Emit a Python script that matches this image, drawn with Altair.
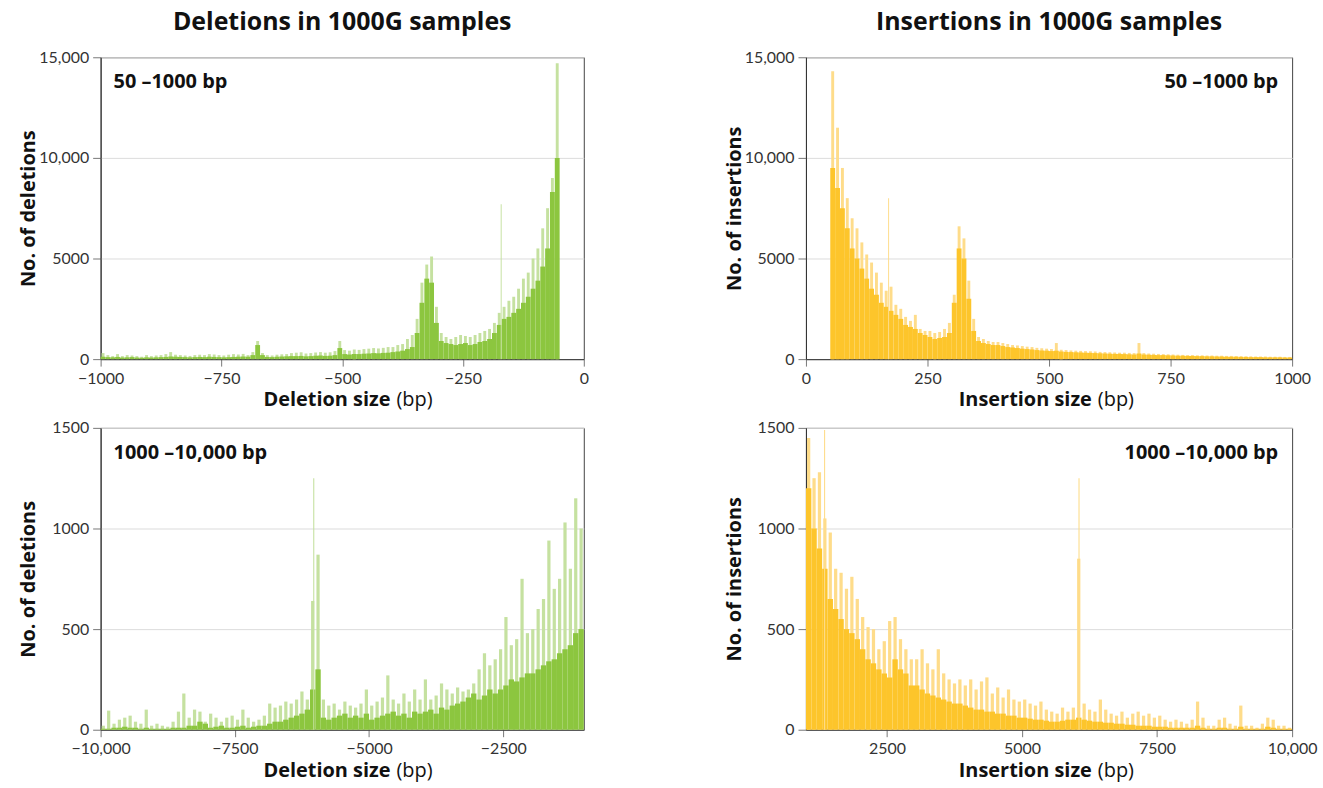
import altair as alt
import pandas as pd

FONT = "Lato"
TFONT = "Open Sans"
GREEN = "#8cc63f"
GREEN_LIGHT = "#c5e1a0"
YELLOW = "#fdc52b"
YELLOW_LIGHT = "#fedc8a"

# ---------------- Deletions 50-1000 bp (10 bp bins, start of bin) ----------------
del_small_start = list(range(-1000, -50, 10))
del_small_solid = [
    120, 100, 90, 110, 80, 90, 100, 80, 70, 90,
    80, 90, 100, 110, 130, 120, 110, 100, 90, 100,
    110, 100, 120, 110, 100, 90, 100, 110, 120, 130,
    120, 200, 700, 200, 110, 100, 120, 130, 140, 150,
    150, 160, 140, 150, 170, 180, 160, 170, 200, 550,
    250, 230, 260, 250, 270, 280, 300, 290, 310, 320,
    350, 380, 420, 500, 600, 1300, 2800, 4000, 3800, 1800,
    900, 800, 750, 700, 750, 800, 700, 750, 850, 900,
    1000, 1300, 1700, 2000, 2100, 2300, 2500, 2800, 3100, 3500,
    3900, 4600, 5500, 8300, 10000,
]
del_small_peak = [
    300, 200, 150, 250, 150, 200, 180, 150, 120, 200,
    150, 180, 200, 250, 350, 220, 200, 180, 160, 200,
    220, 200, 250, 230, 200, 180, 220, 250, 230, 260,
    200, 350, 900, 300, 200, 180, 220, 240, 250, 300,
    320, 340, 280, 300, 330, 350, 320, 340, 400, 900,
    450, 420, 480, 460, 500, 520, 550, 530, 560, 600,
    600, 700, 750, 1000, 1200, 2000, 3800, 4700, 5100, 2600,
    1300, 1100, 1000, 1100, 1200, 1150, 1100, 1200, 1300, 1400,
    1500, 1800, 2300, 2600, 2900, 3100, 3500, 4000, 4300, 5000,
    5500, 6500, 7500, 9000, 14700,
]
del_small_spike_x = [-171]
del_small_spike_y = [7700]

# ---------------- Insertions 50-1000 bp ----------------
ins_small_start = list(range(50, 1000, 10))
ins_small_solid = [
    9500, 8500, 7500, 6500, 5500, 5000, 4500, 4000, 3500, 3200,
    2800, 2600, 2400, 2200, 2000, 1700, 1600, 1500, 1300, 1200,
    1100, 1000, 1050, 1100, 1300, 2800, 5500, 5000, 3000, 1400,
    900, 800, 750, 700, 700, 650, 600, 580, 550, 520,
    500, 480, 450, 430, 420, 400, 420, 380, 360, 350,
    340, 330, 320, 310, 300, 290, 280, 270, 260, 260,
    250, 240, 230, 280, 230, 220, 210, 200, 200, 190,
    180, 170, 170, 160, 160, 150, 150, 140, 140, 130,
    130, 120, 120, 120, 110, 110, 100, 100, 100, 90,
    90, 90, 90, 80, 80,
]
ins_small_peak = [
    14300, 11500, 9500, 8000, 7000, 6500, 5800, 5200, 4800, 4300,
    3800, 3400, 3600, 2700, 2500, 2100, 1900, 2200, 1500, 1400,
    1400, 1300, 1350, 1500, 1800, 3200, 6600, 6000, 3900, 2000,
    1100, 1000, 900, 850, 850, 800, 750, 700, 680, 650,
    620, 600, 560, 540, 520, 500, 800, 470, 450, 430,
    420, 410, 400, 390, 380, 360, 350, 340, 330, 320,
    320, 310, 300, 800, 300, 280, 270, 260, 250, 240,
    230, 220, 210, 200, 200, 190, 190, 180, 180, 170,
    170, 160, 160, 150, 150, 140, 140, 130, 130, 130,
    120, 120, 120, 110, 110,
]
ins_small_spike_x = [170]
ins_small_spike_y = [8000]

# ---------------- Deletions 1000-10,000 bp (100 bp bins) ----------------
del_large_start = list(range(-10000, -1000, 100))
del_large_solid = [
    5, 5, 10, 10, 15, 10, 10, 5, 10, 5,
    5, 5, 5, 10, 10, 10, 20, 20, 40, 30,
    10, 15, 20, 10, 10, 15, 20, 10, 15, 20,
    20, 30, 40, 40, 50, 60, 70, 80, 100, 200,
    300, 60, 50, 60, 70, 80, 60, 70, 60, 80,
    50, 60, 70, 80, 90, 70, 80, 60, 90, 80,
    90, 100, 80, 110, 100, 120, 130, 140, 160, 180,
    150, 170, 200, 180, 200, 220, 250, 240, 260, 280,
    280, 300, 320, 340, 350, 380, 400, 420, 480, 500,
]
del_large_peak = [
    20, 95, 30, 50, 60, 70, 40, 30, 100, 20,
    30, 20, 15, 40, 90, 180, 60, 100, 90, 40,
    80, 60, 40, 60, 70, 50, 100, 60, 40, 50,
    70, 130, 110, 120, 140, 130, 150, 190, 150, 640,
    870, 150, 120, 130, 100, 140, 120, 110, 130, 200,
    120, 140, 160, 270, 150, 130, 180, 140, 200, 150,
    250, 150, 170, 230, 200, 180, 210, 190, 200, 230,
    300, 380, 320, 350, 400, 560, 420, 450, 750, 480,
    500, 600, 650, 940, 700, 750, 1030, 800, 1150, 1000,
]
del_large_spike_x = [-6030]
del_large_spike_y = [1250]

# ---------------- Insertions 1000-10,000 bp ----------------
ins_large_start = list(range(1000, 10000, 100))
ins_large_solid = [
    1200, 1000, 900, 800, 650, 600, 550, 500, 480, 450,
    400, 350, 330, 300, 280, 260, 350, 300, 280, 220,
    220, 200, 180, 170, 160, 150, 140, 130, 130, 120,
    110, 100, 100, 90, 90, 80, 80, 70, 70, 60,
    60, 55, 50, 50, 45, 40, 40, 45, 50, 50,
    60, 50, 45, 40, 40, 35, 35, 30, 30, 25,
    25, 20, 20, 20, 15, 15, 15, 10, 10, 10,
    10, 10, 20, 10, 5, 5, 10, 10, 5, 5,
    15, 5, 5, 5, 5, 15, 10, 5, 5, 5,
]
ins_large_peak = [
    1450, 1250, 1280, 1050, 980, 800, 780, 700, 760, 650,
    560, 510, 500, 400, 440, 540, 560, 450, 400, 350,
    350, 400, 330, 300, 400, 280, 250, 230, 250, 220,
    250, 200, 240, 260, 180, 210, 160, 200, 150, 140,
    150, 130, 120, 140, 100, 90, 80, 110, 90, 110,
    850, 130, 100, 90, 150, 100, 80, 70, 90, 60,
    80, 90, 70, 80, 60, 70, 50, 40, 50, 40,
    30, 50, 140, 60, 20, 20, 50, 60, 30, 20,
    120, 20, 20, 10, 30, 60, 50, 20, 20, 10,
]
ins_large_spike_x = [1345, 6055]
ins_large_spike_y = [1490, 1250]

LABEL_EXPR = "abs(datum.value) >= 10000 ? format(datum.value, ',') : format(datum.value, 'd')"


def panel(starts, step, solid, peak, sx, sy, spike_w, color, color_light,
          domain, xticks, ydomain, yticks, xbold, ytitle, tag, tag_right,
          W, H, split, title=None):
    pw = step * 0.6
    df = pd.DataFrame({
        "x0": starts,
        "x1": [s + step for s in starts],
        "p0": [s + (step - pw) / 2 for s in starts],
        "p1": [s + (step + pw) / 2 for s in starts],
        "solid": solid,
        "peak": peak,
        "zero": [0] * len(starts),
    })
    sp = pd.DataFrame({
        "x0": [x - spike_w / 2 for x in sx],
        "x1": [x + spike_w / 2 for x in sx],
        "y": sy,
        "zero": [0] * len(sx),
    })
    xs = alt.Scale(domain=domain, nice=False, zero=False)
    ys = alt.Scale(domain=ydomain, nice=False)
    xaxis = alt.Axis(values=xticks, title=None, grid=False, labelExpr=LABEL_EXPR,
                     labelFlush=False, labelOverlap=False, tickSize=7)
    yaxis = alt.Axis(values=yticks, title=ytitle, grid=True, labelExpr=LABEL_EXPR,
                     labelFlush=False, labelOverlap=False, tickSize=8,
                     titleAngle=270, titleX=-72, titleY=H / 2,
                     titleAlign="center", titleBaseline="middle")
    light = alt.Chart(df).mark_rect(color=color_light).encode(
        x=alt.X("p0:Q", scale=xs, axis=xaxis),
        x2="p1:Q",
        y=alt.Y("peak:Q", scale=ys, axis=yaxis),
        y2="zero:Q",
    )
    base = alt.Chart(df).mark_rect(color=color).encode(
        x=alt.X("x0:Q", scale=xs), x2="x1:Q",
        y=alt.Y("solid:Q", scale=ys), y2="zero:Q",
    )
    spikes = alt.Chart(sp).mark_rect(color=color_light).encode(
        x=alt.X("x0:Q", scale=xs), x2="x1:Q",
        y=alt.Y("y:Q", scale=ys), y2="zero:Q",
    )
    tdf = pd.DataFrame({"t": [tag]})
    tag_mark = alt.Chart(tdf).mark_text(
        font=TFONT, fontSize=20, fontWeight="bold", color="#111",
        align="right" if tag_right else "left", baseline="alphabetic",
    ).encode(x=alt.value(W - 14 if tag_right else 13), y=alt.value(31), text="t:N")
    b = alt.Chart(pd.DataFrame({"t": [xbold]})).mark_text(
        font=TFONT, fontSize=20, fontWeight="bold", color="#111",
        align="right", baseline="alphabetic",
    ).encode(x=alt.value(split), y=alt.value(H + 47), text="t:N")
    r = alt.Chart(pd.DataFrame({"t": ["(bp)"]})).mark_text(
        font=TFONT, fontSize=20, fontWeight="normal", color="#111",
        align="left", baseline="alphabetic",
    ).encode(x=alt.value(split + 6), y=alt.value(H + 47), text="t:N")
    props = dict(width=W, height=H)
    if title:
        props["title"] = alt.TitleParams(
            title, font=TFONT, fontSize=25, fontWeight="bold", color="#111",
            anchor="middle", frame="group", offset=14)
    return alt.layer(light, base, spikes, tag_mark, b, r).properties(**props)


W_L, W_R, H = 485, 488, 303

tl = panel(del_small_start, 10, del_small_solid, del_small_peak,
           del_small_spike_x, del_small_spike_y, 2, GREEN, GREEN_LIGHT,
           [-1000, 0], [-1000, -750, -500, -250, 0], [0, 15000], [0, 5000, 10000, 15000],
           "Deletion size", "No. of deletions", "50 \u20131000 bp", False, W_L, H, 291,
           "Deletions in 1000G samples")
tr = panel(ins_small_start, 10, ins_small_solid, ins_small_peak,
           ins_small_spike_x, ins_small_spike_y, 2, YELLOW, YELLOW_LIGHT,
           [0, 1000], [0, 250, 500, 750, 1000], [0, 15000], [0, 5000, 10000, 15000],
           "Insertion size", "No. of insertions", "50 \u20131000 bp", True, W_R, H, 287,
           "Insertions in 1000G samples")
bl = panel(del_large_start, 100, del_large_solid, del_large_peak,
           del_large_spike_x, del_large_spike_y, 20, GREEN, GREEN_LIGHT,
           [-10000, -1000], [-10000, -7500, -5000, -2500], [0, 1500], [0, 500, 1000, 1500],
           "Deletion size", "No. of deletions", "1000 \u201310,000 bp", False, W_L, H, 291)
br = panel(ins_large_start, 100, ins_large_solid, ins_large_peak,
           ins_large_spike_x, ins_large_spike_y, 20, YELLOW, YELLOW_LIGHT,
           [1000, 10000], [2500, 5000, 7500, 10000], [0, 1500], [0, 500, 1000, 1500],
           "Insertion size", "No. of insertions", "1000 \u201310,000 bp", True, W_R, H, 287)

chart = alt.concat(
    tl, tr, bl, br, columns=2, bounds="flush",
    spacing={"row": 69, "column": 223},
).properties(
    padding={"left": 18, "top": 8, "right": 5, "bottom": 5},
    background="white",
).configure_view(
    stroke="#444", strokeWidth=1
).configure_axis(
    labelFont=FONT, labelFontSize=16, labelColor="#333", labelPadding=4,
    titleFont=TFONT, titleFontSize=20, titleFontWeight="bold", titleColor="#111",
    domainColor="#333", tickColor="#777", gridColor="#dcdcdc", gridWidth=1,
)

chart.save("out.html", embed_options={"renderer": "svg", "actions": False})
